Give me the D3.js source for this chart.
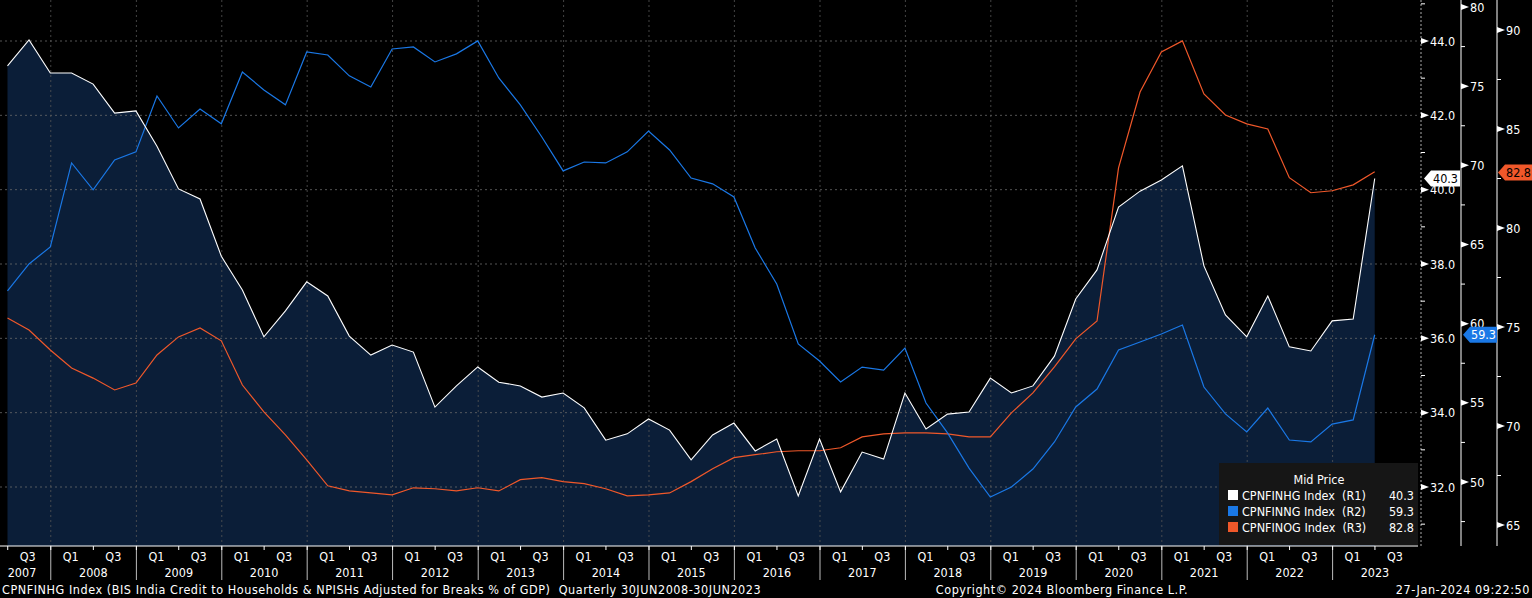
<!DOCTYPE html>
<html><head><meta charset="utf-8">
<script src="https://cdn.jsdelivr.net/npm/d3@7"></script>
<style>body{margin:0;background:#000}svg{display:block}text{font-family:"DejaVu Sans Condensed","Liberation Sans Narrow","DejaVu Sans",sans-serif;font-size:12.5px;fill:#fff;white-space:pre}</style>
</head><body>
<svg width="1532" height="598"></svg>
<script>
const svg = d3.select('svg');

// quarter-end dates Jun 2007 .. Jun 2023
const dates = d3.range(65).map(i => new Date(2007, 5 + i*3, 30));

const households = [43.33,44.03,43.14,43.14,42.84,42.06,42.12,41.17,40.02,39.75,38.21,37.30,36.04,36.74,37.52,37.14,
  36.06,35.55,35.82,35.63,34.15,34.72,35.23,34.82,34.72,34.42,34.53,34.13,33.26,33.43,33.83,33.53,
  32.73,33.40,33.72,32.97,33.29,31.76,33.29,31.87,32.94,32.75,34.53,33.56,33.96,34.02,34.93,34.53,
  34.72,35.52,37.06,37.84,39.53,39.96,40.26,40.64,37.95,36.63,36.04,37.14,35.77,35.66,36.47,36.52,40.3];
const nonFin = [62.07,63.77,64.85,70.15,68.45,70.34,70.85,74.38,72.36,73.56,72.62,75.90,74.76,73.82,77.16,76.97,
  75.65,74.95,77.35,77.48,76.53,77.04,77.86,75.52,73.82,71.79,69.65,70.21,70.15,70.85,72.17,70.97,
  69.20,68.83,68.0,64.78,62.51,58.72,57.64,56.32,57.26,57.07,58.46,54.99,53.10,50.88,49.05,49.68,
  50.82,52.53,54.74,55.87,58.34,58.84,59.35,59.92,56.00,54.30,53.16,54.67,52.65,52.53,53.66,53.92,59.3];
const govt = [75.45,74.85,73.84,72.93,72.42,71.82,72.17,73.59,74.5,74.95,74.3,72.07,70.71,69.55,68.29,66.98,
  66.72,66.62,66.52,66.88,66.83,66.72,66.88,66.72,67.29,67.39,67.19,67.09,66.83,66.47,66.52,66.62,
  67.19,67.84,68.4,68.55,68.7,68.75,68.75,68.9,69.45,69.6,69.65,69.65,69.6,69.45,69.45,70.66,
  71.67,72.99,74.4,75.3,83.04,86.87,88.89,89.45,86.77,85.71,85.26,85.0,82.54,81.78,81.88,82.18,82.84];

const r1Ticks = [32, 34, 36, 38, 40, 42, 44];
const r2Ticks = [50, 55, 60, 65, 70, 75, 80];
const r3Ticks = [65, 70, 75, 80, 85, 90];
const years = d3.range(2007, 2024);
const legendNames = ['CPNFINHG Index  (R1)', 'CPNFINNG Index  (R2)', 'CPNFINOG Index  (R3)'];
const colors = ['#ffffff', '#1a78e6', '#f0582a'];

const plotR = 1418, plotB = 546;
const x = d3.scaleTime().domain([new Date(2007, 4, 29), new Date(2024, 0, 1)]).range([0, plotR]);
const y1 = d3.scaleLinear().domain([32, 44]).range([487, 41]);
const y2 = d3.scaleLinear().domain([50, 80]).range([482, 7]);
const y3 = d3.scaleLinear().domain([65, 90]).range([525, 30]);

const defs = svg.append('defs');
defs.append('clipPath').attr('id', 'clip').append('rect').attr('width', plotR).attr('height', plotB);
const g = svg.append('g').attr('clip-path', 'url(#clip)');

// area under R1
g.append('path').datum(households)
  .attr('fill', '#0b1e38')
  .attr('d', d3.area().x((d,i) => x(dates[i])).y0(plotB).y1(d => y1(d)));

// grid
g.selectAll('.hg').data(r1Ticks).join('line')
  .attr('x1', 0).attr('x2', plotR).attr('y1', d => y1(d)).attr('y2', d => y1(d))
  .attr('stroke', '#6a6a6a').attr('stroke-dasharray', '2,3').attr('stroke-width', 0.8);
g.selectAll('.vg').data(years.slice(1)).join('line')
  .attr('x1', d => x(new Date(d,0,1))).attr('x2', d => x(new Date(d,0,1)))
  .attr('y1', 0).attr('y2', plotB)
  .attr('stroke', '#555').attr('stroke-dasharray', '2,3').attr('stroke-width', 0.8);

const line = (ys) => d3.line().x((d,i) => x(dates[i])).y(d => ys(d));
g.append('path').datum(govt).attr('fill', 'none').attr('stroke', colors[2]).attr('stroke-width', 1.2).attr('d', line(y3));
g.append('path').datum(nonFin).attr('fill', 'none').attr('stroke', colors[1]).attr('stroke-width', 1.2).attr('d', line(y2));
g.append('path').datum(households).attr('fill', 'none').attr('stroke', colors[0]).attr('stroke-width', 1.1).attr('d', line(y1));

// x axis
svg.append('line').attr('x1', 0).attr('x2', plotR).attr('y1', plotB).attr('y2', plotB).attr('stroke', '#fff');
const xa = svg.append('g');
years.forEach(yr => {
  const x0 = x(new Date(yr, 0, 1));
  if (yr > 2007) xa.append('line').attr('x1', x0).attr('x2', x0).attr('y1', plotB).attr('y2', 580).attr('stroke', '#bbb');
  [[0,'Q1'],[6,'Q3']].forEach(([m, q]) => {
    const d = new Date(yr, m, 1);
    if (d < x.domain()[0]) return;
    xa.append('line').attr('x1', x(d)).attr('x2', x(d)).attr('y1', plotB).attr('y2', plotB + 4).attr('stroke', '#fff');
    xa.append('text').attr('x', x(d) + 20).attr('y', 561).attr('text-anchor', 'middle').text(q);
  });
  const mid = yr === 2007 ? 22 : x(new Date(yr, 6, 1));
  xa.append('text').attr('x', mid).attr('y', 577).attr('text-anchor', 'middle').text(yr);
});

// right axes
const rightAxis = (scale, ticks, ax, fmt, minorStep, dashed) => {
  const a = svg.append('g');
  a.append('line').attr('x1', ax).attr('x2', ax).attr('y1', 0).attr('y2', plotB)
    .attr('stroke', dashed ? '#aaa' : '#fff').attr('stroke-dasharray', dashed ? '2,2' : null);
  const [lo, hi] = scale.domain();
  d3.range(lo - minorStep*2, hi + minorStep*2 + 0.001, minorStep).forEach(v => {
    const yy = scale(v);
    if (yy < 2 || yy > plotB - 2 || ticks.includes(v)) return;
    a.append('line').attr('x1', ax).attr('x2', ax + 4).attr('y1', yy).attr('y2', yy).attr('stroke', '#fff');
  });
  ticks.forEach(v => {
    const yy = scale(v);
    a.append('path').attr('d', `M${ax},${yy-3}L${ax+8},${yy}L${ax},${yy+3}Z`).attr('fill', '#fff');
    a.append('text').attr('x', ax + 9).attr('y', yy + 4.5).text(fmt(v));
  });
};
rightAxis(y1, r1Ticks, 1421, d3.format('.1f'), 1, true);
rightAxis(y2, r2Ticks, 1461, d3.format('d'), 2.5, false);
rightAxis(y3, r3Ticks, 1497, d3.format('d'), 2.5, false);

// value tags
const tag = (xl, w, yy, fill, txt, tc) => {
  svg.append('path').attr('d', `M${xl},${yy}L${xl+7},${yy-8}L${xl+w},${yy-8}L${xl+w},${yy+8}L${xl+7},${yy+8}Z`).attr('fill', fill);
  svg.append('text').attr('x', xl + 7 + (w-7)/2).attr('y', yy + 4.5).attr('text-anchor', 'middle').style('fill', tc).text(txt);
};
tag(1424, 36, y1(40.3), '#fff', '40.3', '#000');
tag(1463, 34, y2(59.3), colors[1], '59.3', '#fff');
tag(1498, 34, y3(82.8), colors[2], '82.8', '#000');

// legend
const lg = svg.append('g').attr('transform', 'translate(1219,463)');
lg.append('rect').attr('width', 199).attr('height', 82).attr('fill', '#161616');
lg.append('text').attr('x', 100).attr('y', 21).attr('text-anchor', 'middle').text('Mid Price');
const lastVals = [households, nonFin, govt].map(s => s[s.length-1]);
legendNames.forEach((n, i) => {
  const yy = 32 + i*16;
  lg.append('rect').attr('x', 9).attr('y', yy - 5).attr('width', 10).attr('height', 10).attr('fill', colors[i]);
  lg.append('text').attr('x', 23).attr('y', yy + 4.5).text(n);
  lg.append('text').attr('x', 195).attr('y', yy + 4.5).attr('text-anchor', 'end').text(lastVals[i].toFixed(1));
});

// footer
const ft = svg.append('g').attr('transform', 'translate(0,594)').style('letter-spacing', '0.55px');
ft.append('text').attr('x', 2).text('CPNFINHG Index (BIS India Credit to Households & NPISHs Adjusted for Breaks % of GDP)  Quarterly 30JUN2008-30JUN2023');
ft.append('text').attr('x', 1062).attr('text-anchor', 'middle').text('Copyright© 2024 Bloomberg Finance L.P.');
ft.append('text').attr('x', 1530).attr('text-anchor', 'end').text('27-Jan-2024 09:22:50');
</script>
</body></html>
